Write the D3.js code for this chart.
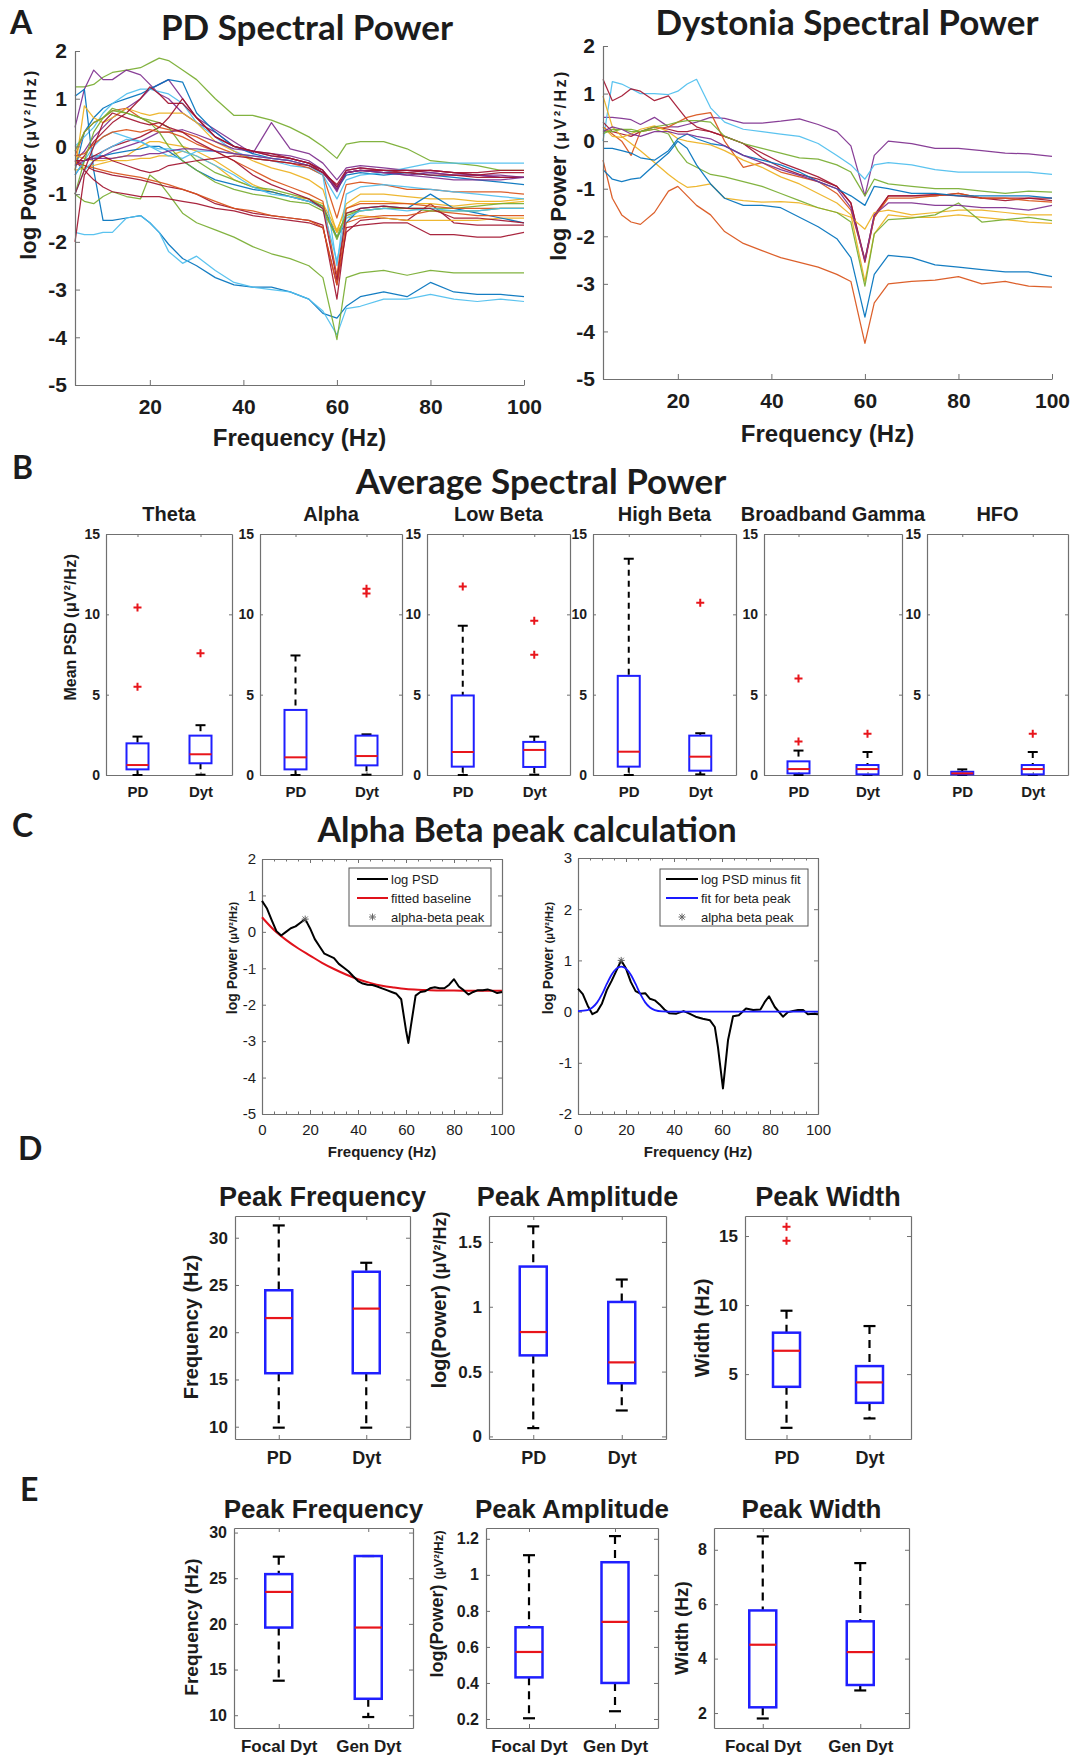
<!DOCTYPE html>
<html>
<head>
<meta charset="utf-8">
<script src="https://cdn.jsdelivr.net/npm/d3@7"></script>
<style>
body { margin: 0; background: #fff; }
</style>
</head>
<body>
<svg id="fig" width="1076" height="1759"></svg>
<script>
// ---------- data ----------
var freqs = [4,6,8,10,12,15,18,20,22,24,27,30,34,38,42,46,50,54,57,60,62,65,70,75,80,85,90,95,100];

// panel A, PD patients (log power per frequency)
var pdPower = [
  [1.25,1.25,1.3,1.45,1.55,1.6,1.65,1.75,1.85,1.8,1.6,1.4,1.0,0.65,0.65,0.55,0.4,0.2,0.0,-0.25,0.05,0.1,0.1,-0.05,-0.3,-0.35,-0.4,-0.5,-0.5],
  [0.4,1.2,1.6,1.4,1.4,1.6,1.5,1.3,1.1,1.0,0.7,0.5,0.3,0.0,-0.1,-0.2,-0.25,-0.35,-0.5,-0.85,-0.55,-0.5,-0.55,-0.6,-0.55,-0.6,-0.6,-0.65,-0.65],
  [-0.3,-0.1,0.2,0.4,0.6,0.8,1.0,1.2,1.3,1.4,1.0,0.6,0.35,0.1,-0.15,0.5,-0.05,-0.15,-0.35,-0.7,-0.45,-0.4,-0.45,-0.5,-0.5,-0.55,-0.6,-0.6,-0.65],
  [-0.5,0.3,0.6,0.8,0.9,1.0,1.1,1.2,1.3,1.4,1.35,0.7,0.3,0.0,-0.15,-0.25,-0.3,-0.4,-0.55,-0.9,-0.6,-0.55,-0.6,-0.55,-0.6,-0.65,-0.7,-0.75,-0.8],
  [0.0,0.2,0.4,0.7,0.9,1.1,1.2,1.2,1.15,1.1,0.9,0.5,0.2,-0.1,-0.25,-0.3,-0.4,-0.45,-0.6,-1.1,-0.7,-0.6,-0.55,-0.45,-0.35,-0.35,-0.35,-0.35,-0.35],
  [1.05,1.2,-0.5,-1.55,-1.55,-1.5,-1.45,-1.6,-1.8,-2.05,-2.35,-2.5,-2.75,-2.9,-2.95,-2.95,-3.05,-3.2,-3.5,-3.6,-3.35,-3.15,-3.05,-3.15,-2.85,-3.05,-3.1,-3.1,-3.15],
  [-1.8,-1.85,-1.85,-1.8,-1.8,-1.5,-1.45,-1.6,-1.8,-2.2,-2.45,-2.3,-2.6,-2.85,-2.95,-3.0,-3.05,-3.2,-3.45,-3.95,-3.4,-3.35,-3.2,-3.2,-3.1,-3.2,-3.25,-3.2,-3.25],
  [-1.0,-1.15,-1.2,-1.05,-0.95,-1.05,-1.1,-0.6,-0.75,-1.0,-1.4,-1.6,-1.75,-1.9,-2.1,-2.25,-2.35,-2.5,-2.75,-4.05,-2.75,-2.65,-2.6,-2.7,-2.6,-2.65,-2.65,-2.65,-2.65],
  [-0.3,-0.4,-0.5,-0.55,-0.6,-0.65,-0.7,-0.75,-0.8,-0.85,-0.9,-1.0,-1.2,-1.3,-1.4,-1.45,-1.5,-1.55,-1.65,-3.2,-1.7,-1.65,-1.6,-1.6,-1.85,-1.85,-1.9,-1.9,-1.8],
  [-0.3,-0.5,-0.7,-0.85,-0.95,-1.0,-1.05,-1.05,-1.05,-1.1,-1.15,-1.2,-1.3,-1.35,-1.45,-1.5,-1.55,-1.6,-1.7,-2.9,-1.8,-1.55,-1.5,-1.55,-1.2,-1.6,-1.65,-1.65,-1.65],
  [-0.2,0.3,0.5,0.6,0.75,0.8,0.6,0.5,0.4,0.35,0.3,0.2,0.0,-0.15,-0.25,-0.3,-0.35,-0.45,-0.6,-1.5,-0.8,-0.75,-0.8,-0.9,-0.9,-0.95,-0.95,-0.95,-1.0],
  [-0.5,0.85,0.6,0.5,0.6,0.8,0.7,0.65,0.7,0.7,0.7,0.5,0.1,-0.1,-0.3,-0.45,-0.55,-0.7,-0.9,-1.8,-1.2,-1.0,-1.0,-1.05,-1.1,-1.1,-1.15,-1.15,-1.1],
  [-0.2,-0.25,-0.3,-0.3,-0.25,-0.2,0.0,0.1,0.1,0.05,0.0,-0.1,-0.3,-0.55,-0.8,-0.95,-1.05,-1.1,-1.2,-1.75,-1.3,-1.15,-1.15,-1.2,-1.2,-1.25,-1.2,-1.2,-1.15],
  [-0.5,-0.45,-0.4,-0.35,-0.3,-0.3,-0.25,-0.25,-0.2,-0.2,-0.1,-0.2,-0.4,-0.7,-0.85,-0.95,-1.05,-1.15,-1.3,-1.8,-1.5,-1.45,-1.5,-1.55,-1.55,-1.55,-1.55,-1.5,-1.5],
  [-0.6,-0.3,-0.2,-0.2,-0.15,-0.1,-0.05,0.0,0.0,-0.1,-0.3,-0.5,-0.7,-0.8,-0.9,-0.95,-1.05,-1.15,-1.25,-1.9,-1.6,-1.3,-1.25,-1.3,-1.0,-1.3,-1.4,-1.5,-1.6],
  [-0.1,0.3,0.5,0.6,0.8,0.7,0.6,0.55,0.5,0.4,0.0,-0.3,-0.55,-0.7,-0.85,-0.9,-1.0,-1.1,-1.25,-1.95,-1.45,-1.35,-1.3,-1.3,-1.3,-1.3,-1.25,-1.2,-1.2],
  [-0.6,-0.3,0.0,0.2,0.3,0.2,0.1,0.0,-0.1,-0.2,-0.25,-0.1,-0.1,-0.15,-0.2,-0.25,-0.3,-0.4,-0.6,-2.5,-1.0,-0.85,-0.8,-0.85,-0.9,-0.95,-1.0,-1.05,-1.1],
  [-0.3,-0.3,-0.25,-0.2,-0.1,0.0,0.1,0.2,0.3,0.3,0.35,0.25,0.1,-0.05,-0.1,-0.15,-0.2,-0.3,-0.5,-0.95,-0.5,-0.45,-0.5,-0.5,-0.55,-0.6,-0.6,-0.65,-0.65],
  [-0.4,-0.2,0.1,0.3,0.5,0.7,1.0,1.25,1.1,0.9,0.9,0.6,0.2,0.0,-0.1,-0.2,-0.25,-0.35,-0.55,-0.9,-0.55,-0.5,-0.55,-0.55,-0.6,-0.6,-0.65,-0.65,-0.65],
  [-0.3,-0.3,-0.2,-0.1,0.0,0.1,0.2,0.3,0.4,0.6,1.0,0.6,0.2,0.0,-0.1,-0.15,-0.25,-0.35,-0.5,-0.85,-0.55,-0.5,-0.5,-0.55,-0.5,-0.55,-0.6,-0.55,-0.55],
  [-0.35,-0.4,-0.45,-0.5,-0.55,-0.6,-0.65,-0.7,-0.75,-0.8,-0.9,-1.0,-1.15,-1.3,-1.35,-1.45,-1.5,-1.55,-1.7,-2.9,-1.6,-1.5,-1.45,-1.45,-1.35,-1.4,-1.45,-1.45,-1.45],
  [-0.2,-0.15,0.05,0.2,0.3,0.35,0.3,0.35,0.3,0.3,0.2,0.05,-0.1,-0.3,-0.5,-0.7,-0.85,-1.0,-1.15,-2.7,-1.3,-1.2,-1.2,-1.2,-1.25,-1.3,-1.3,-1.3,-1.3],
  [-1.0,-0.3,0.3,0.6,0.75,0.7,0.6,0.5,0.3,0.0,-0.3,-0.5,-0.75,-0.9,-1.0,-1.05,-1.15,-1.2,-1.35,-1.9,-1.4,-1.35,-1.3,-1.3,-1.35,-1.35,-1.35,-1.3,-1.3],
  [-1.0,-0.5,-0.3,-0.1,0.0,0.15,0.1,0.0,-0.05,-0.05,-0.1,-0.2,-0.4,-0.6,-0.85,-1.0,-1.05,-1.15,-1.3,-2.4,-1.5,-1.35,-1.3,-1.35,-1.3,-1.35,-1.35,-1.3,-1.3],
  [-0.4,-0.3,-0.25,-0.25,-0.25,-0.2,-0.2,-0.15,-0.15,-0.1,-0.05,-0.05,-0.1,-0.15,-0.2,-0.25,-0.3,-0.4,-0.55,-0.9,-0.55,-0.5,-0.55,-0.6,-0.65,-0.7,-0.7,-0.7,-0.65],
  [-1.0,-0.5,0.0,0.5,0.7,0.6,0.5,0.45,0.5,0.4,0.3,0.1,-0.1,-0.3,-0.6,-0.8,-0.95,-1.1,-1.3,-2.8,-1.4,-1.3,-1.25,-1.3,-1.3,-1.5,-1.5,-1.55,-1.6],
  [-2.0,-0.6,-0.3,-0.2,-0.3,-0.4,-0.5,-0.55,-0.5,-0.4,-0.35,-0.3,-0.25,-0.2,-0.25,-0.3,-0.35,-0.4,-0.55,-0.8,-0.5,-0.45,-0.5,-0.5,-0.5,-0.55,-0.55,-0.5,-0.5]
];

// panel A, dystonia patients
var dytPower = [
  [0.5,0.5,0.48,0.45,0.35,0.5,0.3,0.3,0.35,0.4,0.5,0.48,0.38,0.38,0.42,0.47,0.35,0.2,-0.1,-1.15,-0.3,0.0,-0.05,-0.15,-0.15,-0.2,-0.25,-0.27,-0.32],
  [0.0,1.25,1.2,1.1,1.0,1.0,0.98,1.05,1.2,1.3,0.7,0.4,0.25,0.2,0.15,0.1,-0.05,-0.3,-0.5,-0.8,-0.5,-0.45,-0.5,-0.6,-0.65,-0.65,-0.65,-0.65,-0.7],
  [1.3,0.85,0.95,1.1,1.05,0.85,0.95,0.7,0.45,0.3,0.2,0.1,-0.05,-0.35,-0.55,-0.7,-0.8,-0.95,-1.3,-2.55,-1.6,-1.15,-1.15,-1.12,-1.15,-1.2,-1.2,-1.2,-1.25],
  [0.4,0.2,0.15,0.1,0.2,0.3,0.25,0.2,0.2,0.25,0.2,0.1,-0.05,-0.25,-0.45,-0.6,-0.75,-0.95,-1.3,-2.5,-1.55,-1.15,-1.15,-1.15,-1.1,-1.2,-1.25,-1.2,-1.2],
  [-0.4,-1.2,-1.55,-1.7,-1.75,-1.5,-1.05,-0.95,-1.15,-1.35,-1.55,-1.9,-2.15,-2.3,-2.45,-2.55,-2.65,-2.8,-2.95,-4.25,-3.4,-3.0,-2.95,-2.92,-2.85,-3.0,-2.95,-3.05,-3.07],
  [0.3,0.15,0.0,-0.3,0.2,0.25,0.3,0.4,0.5,0.55,0.6,0.0,-0.55,-0.45,-0.65,-0.75,-0.85,-1.1,-1.45,-2.5,-1.6,-1.2,-1.2,-1.15,-1.1,-1.2,-1.2,-1.25,-1.28],
  [0.95,0.3,0.1,-0.05,-0.2,-0.45,-0.7,-0.85,-0.97,-0.95,-0.9,-1.2,-1.25,-1.28,-1.27,-1.3,-1.4,-1.5,-1.6,-1.85,-1.5,-1.45,-1.55,-1.5,-1.45,-1.45,-1.5,-1.55,-1.55],
  [0.3,0.1,0.08,0.15,0.25,0.32,0.2,0.05,0.0,-0.03,-0.08,-0.2,-0.4,-0.55,-0.75,-0.9,-1.1,-1.3,-1.55,-2.95,-1.95,-1.55,-1.6,-1.6,-1.55,-1.6,-1.65,-1.7,-1.73],
  [0.2,0.2,0.25,0.25,0.2,0.3,0.35,0.4,0.43,0.43,0.4,0.1,-0.05,-0.15,-0.25,-0.35,-0.38,-0.5,-0.65,-1.15,-0.8,-0.9,-0.95,-1.0,-1.0,-1.05,-1.1,-1.05,-1.07],
  [0.15,0.25,0.25,0.2,0.2,0.25,0.15,-0.2,-0.45,-0.55,-0.7,-0.75,-0.85,-0.95,-1.1,-1.25,-1.4,-1.5,-1.7,-3.05,-1.95,-1.65,-1.62,-1.55,-1.3,-1.7,-1.65,-1.6,-1.67],
  [-0.6,-0.8,-0.85,-0.8,-0.77,-0.5,-0.25,0.0,-0.15,-0.5,-0.9,-1.2,-1.35,-1.35,-1.4,-1.6,-1.8,-2.05,-2.45,-3.7,-2.8,-2.4,-2.45,-2.6,-2.65,-2.7,-2.75,-2.75,-2.85],
  [-0.15,-0.15,-0.2,-0.25,-0.35,-0.4,-0.2,0.05,0.15,0.05,-0.05,-0.1,-0.3,-0.4,-0.5,-0.65,-0.85,-1.0,-1.15,-1.35,-0.95,-1.0,-1.1,-1.1,-1.15,-1.15,-1.15,-1.15,-1.2],
  [0.2,0.3,0.25,0.15,0.1,0.2,0.2,0.15,0.15,0.1,0.05,-0.1,-0.3,-0.45,-0.6,-0.72,-0.85,-1.0,-1.4,-2.5,-1.55,-1.3,-1.3,-1.35,-1.35,-1.4,-1.4,-1.45,-1.35]
];
var logTicks = [-5,-4,-3,-2,-1,0,1,2];
var freqTicks = [20,40,60,80,100];

// panel B: box stats [low whisker, q1, median, q3, high whisker]
var bandNames = ["Theta","Alpha","Low Beta","High Beta","Broadband Gamma","HFO"];
var bandGroups = ["PD","Dyt"];
var bandPD = [
  [0.0,0.35,0.62,1.97,2.39],
  [0.0,0.35,1.1,4.05,7.44],
  [0.0,0.52,1.43,4.95,9.29],
  [0.0,0.52,1.45,6.17,13.46],
  [0.0,0.1,0.37,0.85,1.52],
  [0.0,0.04,0.1,0.2,0.35]
];
var bandDyt = [
  [0.02,0.73,1.29,2.45,3.1],
  [0.02,0.6,1.18,2.45,2.53],
  [0.02,0.5,1.56,2.06,2.39],
  [0.04,0.27,1.14,2.45,2.6],
  [0.0,0.04,0.37,0.62,1.43],
  [0.0,0.04,0.37,0.62,1.43]
];
var bandPDOut = [[10.43,5.49],[],[11.74],[],[6.0,2.08],[]];
var bandDytOut = [[7.58],[11.6,11.3],[9.6,7.48],[10.72],[2.56],[2.56]];
var psdTicks = [0,5,10,15];

// panel C
var cPsdF = [0,2,4,6,8,10,12,14,16,18,20,22,24,26,28,30,32,34,36,38,40,42,44,46,48,50,52,54,56,58,60,61,62,64,66,68,70,72,74,76,78,80,82,84,86,88,90,92,94,96,98,100];
var cPsdV = [0.85,0.65,0.33,0.02,-0.1,0.0,0.1,0.15,0.25,0.35,0.1,-0.2,-0.4,-0.6,-0.66,-0.72,-0.88,-0.98,-1.08,-1.22,-1.35,-1.42,-1.45,-1.46,-1.5,-1.55,-1.6,-1.65,-1.7,-1.85,-2.7,-3.05,-2.6,-1.75,-1.65,-1.63,-1.55,-1.52,-1.55,-1.55,-1.45,-1.3,-1.5,-1.6,-1.72,-1.65,-1.6,-1.6,-1.58,-1.62,-1.68,-1.65];
var cBaseF = [0,5,10,15,20,25,30,35,40,45,50,55,60,65,70,80,90,100];
var cBaseV = [0.4,0.05,-0.22,-0.45,-0.65,-0.85,-1.02,-1.17,-1.3,-1.4,-1.48,-1.53,-1.57,-1.59,-1.6,-1.61,-1.62,-1.62];
var cResF = [0,2,4,6,8,10,12,14,16,18,20,22,24,26,28,30,32,34,36,38,41,44,46,49,52,55,57,58.3,60.4,62.5,64.6,67,70,73,76,78,79.6,82,85.4,87.5,89.6,91.7,93.8,95.8,98,100];
var cResV = [0.45,0.34,0.12,-0.05,0.0,0.16,0.42,0.6,0.8,1.0,0.84,0.58,0.4,0.35,0.36,0.25,0.22,0.14,0.04,-0.03,-0.04,0.01,-0.03,-0.1,-0.14,-0.17,-0.3,-0.69,-1.5,-0.56,-0.09,-0.07,0.06,0.03,0.04,0.2,0.3,0.09,-0.1,-0.01,0.01,0.03,0.03,-0.05,-0.04,-0.05];
var cFitF = [0,4,6,8,10,12,14,16,18,20,22,24,26,28,30,32,35,40,100];
var cFitV = [0.01,0.03,0.08,0.18,0.34,0.54,0.72,0.84,0.88,0.84,0.72,0.54,0.34,0.18,0.08,0.03,0.005,0,0];
var cPeakLeft = [18, 0.35];
var cPeakRight = [18, 1.0];
var cLegendLeft = ["log PSD","fitted baseline","alpha-beta peak"];
var cLegendRight = ["log PSD minus fit","fit for beta peak","alpha beta peak"];

// panel D (PD vs Dyt) and E (focal vs generalised)
var dGroups = ["PD","Dyt"];
var dFreq = [[9.9,15.66,21.5,24.44,31.3],[9.9,15.66,22.5,26.4,27.35]];
var dAmp = [[0.064,0.625,0.805,1.31,1.62],[0.2,0.41,0.571,1.037,1.21]];
var dWidth = [[1.11,4.08,6.69,8.0,9.59],[1.79,2.92,4.4,5.58,8.48]];
var dWidthOut = [[15.68,14.66],[]];
var eGroups = ["Focal Dyt","Gen Dyt"];
var eFreq = [[13.78,19.6,23.5,25.45,27.36],[9.8,11.8,19.6,27.43,27.43]];
var eAmp = [[0.204,0.431,0.572,0.709,1.109],[0.243,0.4,0.739,1.07,1.215]];
var eWidth = [[1.8,2.21,4.51,5.77,8.49],[2.83,3.03,4.24,5.37,7.51]];

// ---------- drawing ----------
var svg = d3.select("#fig");
var SANS = "'Liberation Sans', Arial, Helvetica, sans-serif";
var CAL = "Lato, 'Open Sans', sans-serif";
var AX = "#707070";
var INK = "#1c1c1c";
var palette = {b:"#0072BD", o:"#D95319", y:"#EDB120", p:"#7E2F8E", g:"#77AC30", c:"#4DBEEE", r:"#A2142F"};
var pdLineColors = ["g","p","p","b","c","b","c","g","r","r","o","y","y","y","b","g","c","p","r","r","o","o","g","c","p","r","r"];
var dytLineColors = ["p","c","r","r","o","o","y","y","g","g","b","b","p"];

function label(x, y, s, size, font, weight, anchor) {
  return svg.append("text")
    .attr("x", x).attr("y", y)
    .attr("text-anchor", anchor || "middle")
    .style("font-family", font || SANS)
    .style("font-weight", weight || "bold")
    .style("font-size", size + "px")
    .style("fill", INK)
    .text(s);
}

function yTitle(x, cy, parts) {
  var big = d3.max(parts, function(p) { return p[1]; });
  var t = svg.append("text")
    .attr("transform", "translate(" + x + "," + cy + ") rotate(-90)")
    .attr("text-anchor", "middle")
    .attr("dy", "0.35em")
    .style("font-family", SANS)
    .style("font-weight", "bold")
    .style("font-size", big + "px")
    .style("fill", INK);
  parts.forEach(function(p) {
    var ts = t.append("tspan").style("font-size", p[1] + "px").text(p[0]);
    if (p[2]) ts.style("letter-spacing", p[2] + "px");
  });
}

function styleAxis(sel, size, weight) {
  sel.select(".domain").attr("stroke", AX).attr("stroke-width", 1.2);
  sel.selectAll(".tick line").attr("stroke", AX).attr("stroke-width", 1);
  sel.selectAll(".tick text")
    .style("font-family", SANS)
    .style("font-size", (size || 12) + "px")
    .style("font-weight", weight || "bold")
    .attr("fill", INK);
}

// full box (MATLAB "box on") with ticks pointing inward
function boxFrame(x, y, o) {
  var x0 = x.range()[0], x1 = x.range()[1], y0 = y.range()[0], y1 = y.range()[1];
  var g = svg.append("g");
  var xf = o.xfmt || function(d) { return String(d); };
  g.append("g").attr("transform", "translate(0," + y0 + ")")
    .call(d3.axisBottom(x).tickValues(o.xt).tickSize(-o.tl).tickSizeOuter(0).tickPadding(o.xpad).tickFormat(xf))
    .call(styleAxis, o.xfs, o.fw);
  g.append("g").attr("transform", "translate(0," + y1 + ")")
    .call(d3.axisTop(x).tickValues(o.xt).tickSize(-o.tl).tickSizeOuter(0).tickFormat(""))
    .call(styleAxis);
  g.append("g").attr("transform", "translate(" + x0 + ",0)")
    .call(d3.axisLeft(y).tickValues(o.yt).tickSize(-o.tl).tickSizeOuter(0).tickPadding(o.ypad).tickFormat(function(d) { return String(d); }))
    .call(styleAxis, o.yfs, o.fw);
  g.append("g").attr("transform", "translate(" + x1 + ",0)")
    .call(d3.axisRight(y).tickValues(o.yt).tickSize(-o.tl).tickSizeOuter(0).tickFormat(""))
    .call(styleAxis);
  if (o.minor) {
    [y0, y1].forEach(function(yy, k) {
      g.append("g").attr("transform", "translate(0," + yy + ")")
        .call((k === 0 ? d3.axisBottom(x) : d3.axisTop(x)).tickValues(o.minor).tickSize(-2.5).tickSizeOuter(0).tickFormat(""))
        .call(styleAxis);
    });
  }
  return g;
}

function boxplots(x, y, stats, outs, st) {
  var g = svg.append("g");
  stats.forEach(function(s, i) {
    var cx = x(i + 1);
    // dashed whiskers
    [[s[4], s[3]], [s[1], s[0]]].forEach(function(w) {
      g.append("line").attr("x1", cx).attr("x2", cx).attr("y1", y(w[0])).attr("y2", y(w[1]))
        .attr("stroke", "#000").attr("stroke-width", st.ww).attr("stroke-dasharray", st.dash);
    });
    [s[0], s[4]].forEach(function(v) {
      g.append("line").attr("x1", cx - st.cw / 2).attr("x2", cx + st.cw / 2).attr("y1", y(v)).attr("y2", y(v))
        .attr("stroke", "#000").attr("stroke-width", st.ww);
    });
    g.append("rect").attr("x", cx - st.bw / 2).attr("y", y(s[3]))
      .attr("width", st.bw).attr("height", y(s[1]) - y(s[3]))
      .attr("fill", "none").attr("stroke", "#1f1fff").attr("stroke-width", st.bs);
    g.append("line").attr("x1", cx - st.bw / 2).attr("x2", cx + st.bw / 2).attr("y1", y(s[2])).attr("y2", y(s[2]))
      .attr("stroke", "#e8151b").attr("stroke-width", st.ms);
    (outs ? outs[i] : []).forEach(function(v) {
      var py = y(v), r = 4;
      g.append("path").attr("d", "M" + (cx - r) + "," + py + "h" + (2 * r) + "M" + cx + "," + (py - r) + "v" + (2 * r))
        .attr("stroke", "#e8151b").attr("stroke-width", 2);
    });
  });
}

function star(g, px, py) {
  var r = 3.5;
  g.append("path")
    .attr("d", "M" + (px - r) + "," + py + "h" + 2 * r + "M" + px + "," + (py - r) + "v" + 2 * r +
      "M" + (px - r * 0.75) + "," + (py - r * 0.75) + "l" + 1.5 * r + "," + 1.5 * r +
      "M" + (px - r * 0.75) + "," + (py + r * 0.75) + "l" + 1.5 * r + "," + (-1.5 * r))
    .attr("stroke", "#666").attr("stroke-width", 1);
}

// ----- Panel letters -----
label(10, 34, "A", 32, CAL, 700, "start");
label(12, 479, "B", 32, CAL, 700, "start");
label(12, 837, "C", 32, CAL, 700, "start");
label(18, 1160, "D", 32, CAL, 700, "start");
label(20, 1501, "E", 32, CAL, 700, "start");

// ----- Panel A -----
function spectraPanel(series, cols, xr, yr, title, titleX, titleY, xlabY, ylabX, ylabCY) {
  var x = d3.scaleLinear().domain([4, 100]).range(xr);
  var y = d3.scaleLinear().domain([-5, 2]).range(yr);
  var g = svg.append("g");
  var line = d3.line().x(function(d, i) { return x(freqs[i]); }).y(function(d) { return y(d); });
  g.selectAll("path.spec").data(series).join("path").attr("class", "spec")
    .attr("d", line).attr("fill", "none")
    .attr("stroke", function(d, i) { return palette[cols[i]]; })
    .attr("stroke-width", 1.25).attr("stroke-linejoin", "round").attr("stroke-opacity", 0.92);
  g.append("g").attr("transform", "translate(0," + yr[0] + ")")
    .call(d3.axisBottom(x).tickValues(freqTicks).tickSize(-5).tickSizeOuter(0).tickPadding(14).tickFormat(function(d) { return String(d); }))
    .call(styleAxis, 21, "bold");
  g.append("g").attr("transform", "translate(" + xr[0] + ",0)")
    .call(d3.axisLeft(y).tickValues(logTicks).tickSize(-5).tickSizeOuter(0).tickPadding(8).tickFormat(function(d) { return String(d); }))
    .call(styleAxis, 21, "bold");
  label(titleX, titleY, title, 35, CAL, 700);
  label((xr[0] + xr[1]) / 2, xlabY, "Frequency (Hz)", 24);
  yTitle(ylabX, ylabCY, [["log Power ", 22], ["(\u03bcV\u00b2/Hz)", 16, 2.5]]);
}
spectraPanel(pdPower, pdLineColors, [75, 524], [385, 51], "PD Spectral Power", 307, 40, 446, 28, 164);
spectraPanel(dytPower, dytLineColors, [603, 1052], [379, 46], "Dystonia Spectral Power", 847, 35, 442, 558, 165);

// ----- Panel B -----
label(541, 494, "Average Spectral Power", 35, CAL, 700);
var bandBoxesX = [[106, 232], [260, 402], [427, 570], [593, 736], [764, 902], [927, 1068]];
bandNames.forEach(function(name, k) {
  var x = d3.scaleLinear().domain([0.5, 2.5]).range(bandBoxesX[k]);
  var y = d3.scaleLinear().domain([0, 15]).range([775, 534]);
  boxFrame(x, y, {xt: [1, 2], yt: psdTicks, tl: 3, xpad: 11, ypad: 6, xfs: 15, yfs: 14, fw: "bold",
    xfmt: function(d) { return bandGroups[d - 1]; }});
  boxplots(x, y, [bandPD[k], bandDyt[k]], [bandPDOut[k], bandDytOut[k]],
    {bw: 22, cw: 10, ww: 2, dash: "6,5", bs: 2, ms: 2});
  label((bandBoxesX[k][0] + bandBoxesX[k][1]) / 2, 521, name, 20);
});
yTitle(70, 627, [["Mean PSD  ", 16], ["(\u03bcV\u00b2/Hz)", 16, 0.5]]);

// ----- Panel C -----
label(527, 842, "Alpha Beta peak calculation", 34, CAL, 700);
(function() {
  var opts = {xt: [0, 20, 40, 60, 80, 100], tl: 4, xpad: 10, ypad: 6, xfs: 15, yfs: 15, fw: "normal",
    minor: d3.range(0, 101, 5)};
  // left: log PSD with fitted baseline
  var xl = d3.scaleLinear().domain([0, 100]).range([262, 502]);
  var yl = d3.scaleLinear().domain([-5, 2]).range([1114, 859]);
  opts.yt = [-5, -4, -3, -2, -1, 0, 1, 2];
  boxFrame(xl, yl, opts);
  var gl = svg.append("g");
  gl.append("path").datum(cBaseF.map(function(f, i) { return [f, cBaseV[i]]; }))
    .attr("d", d3.line().curve(d3.curveMonotoneX).x(function(d) { return xl(d[0]); }).y(function(d) { return yl(d[1]); }))
    .attr("fill", "none").attr("stroke", "#e0121b").attr("stroke-width", 2);
  gl.append("path").datum(cPsdF.map(function(f, i) { return [f, cPsdV[i]]; }))
    .attr("d", d3.line().x(function(d) { return xl(d[0]); }).y(function(d) { return yl(d[1]); }))
    .attr("fill", "none").attr("stroke", "#000").attr("stroke-width", 2).attr("stroke-linejoin", "round");
  star(gl, xl(cPeakLeft[0]), yl(cPeakLeft[1]));

  // right: residual with gaussian fit
  var xr = d3.scaleLinear().domain([0, 100]).range([578, 818]);
  var yr = d3.scaleLinear().domain([-2, 3]).range([1114, 858]);
  opts.yt = [-2, -1, 0, 1, 2, 3];
  boxFrame(xr, yr, opts);
  var gr = svg.append("g");
  gr.append("path").datum(cResF.map(function(f, i) { return [f, cResV[i]]; }))
    .attr("d", d3.line().x(function(d) { return xr(d[0]); }).y(function(d) { return yr(d[1]); }))
    .attr("fill", "none").attr("stroke", "#000").attr("stroke-width", 2).attr("stroke-linejoin", "round");
  gr.append("path").datum(cFitF.map(function(f, i) { return [f, cFitV[i]]; }))
    .attr("d", d3.line().curve(d3.curveMonotoneX).x(function(d) { return xr(d[0]); }).y(function(d) { return yr(d[1]); }))
    .attr("fill", "none").attr("stroke", "#1a1aff").attr("stroke-width", 1.8);
  star(gr, xr(cPeakRight[0]), yr(cPeakRight[1]));

  // legends
  function legend(bx, by, bw, bh, names, cols, lx0, lx1, tx) {
    var g = svg.append("g");
    g.append("rect").attr("x", bx).attr("y", by).attr("width", bw).attr("height", bh)
      .attr("fill", "#fff").attr("stroke", "#555").attr("stroke-width", 1);
    names.forEach(function(n, i) {
      var ly = 879 + i * 19;
      if (cols[i]) {
        g.append("line").attr("x1", lx0).attr("x2", lx1).attr("y1", ly).attr("y2", ly)
          .attr("stroke", cols[i]).attr("stroke-width", 2);
      } else {
        star(g, (lx0 + lx1) / 2, ly);
      }
      g.append("text").attr("x", tx).attr("y", ly + 4.5)
        .style("font-family", SANS).style("font-size", "13px").style("fill", INK).text(n);
    });
  }
  legend(349, 868, 142, 58, cLegendLeft, ["#000", "#e0121b", null], 357, 388, 391);
  legend(660, 869, 148, 57, cLegendRight, ["#000", "#1a1aff", null], 666, 698, 701);

  label(382, 1157, "Frequency (Hz)", 15);
  label(698, 1157, "Frequency (Hz)", 15);
  yTitle(232, 958, [["log Power ", 14], ["(\u03bcV\u00b2/Hz)", 11]]);
  yTitle(548, 958, [["log Power ", 14], ["(\u03bcV\u00b2/Hz)", 11]]);
})();

// ----- Panels D and E -----
function peakPanel(xr, yr, dom, yt, stats, outs, groups, title, titleY, xfs, yfs, tfs) {
  var x = d3.scaleLinear().domain([0.5, 2.5]).range(xr);
  var y = d3.scaleLinear().domain(dom).range(yr);
  boxFrame(x, y, {xt: [1, 2], yt: yt, tl: 4, xpad: 12, ypad: 7, xfs: xfs, yfs: yfs, fw: "bold",
    xfmt: function(d) { return groups[d - 1]; }});
  boxplots(x, y, stats, outs, {bw: 27, cw: 12, ww: 2.2, dash: "8,6", bs: 2.5, ms: 2.2});
  label((xr[0] + xr[1]) / 2, titleY, title, tfs);
}
peakPanel([235, 410], [1439, 1216], [8.7, 32.3], [10, 15, 20, 25, 30], dFreq, null, dGroups, "Peak Frequency", 1206, 18, 17, 27);
peakPanel([489, 666], [1439, 1216], [-0.02, 1.7], [0, 0.5, 1, 1.5], dAmp, null, dGroups, "Peak Amplitude", 1206, 18, 17, 27);
peakPanel([745, 911], [1439, 1216], [0.3, 16.45], [5, 10, 15], dWidth, dWidthOut, dGroups, "Peak Width", 1206, 18, 17, 27);
yTitle(191, 1327, [["Frequency (Hz)", 20]]);
yTitle(439, 1300, [["log(Power) ", 20], ["(\u03bcV\u00b2/Hz)", 18]]);
yTitle(702, 1328, [["Width (Hz)", 20]]);

peakPanel([234, 413], [1728, 1528], [8.6, 30.5], [10, 15, 20, 25, 30], eFreq, null, eGroups, "Peak Frequency", 1518, 17, 16, 26);
peakPanel([486, 658], [1728, 1528], [0.15, 1.26], [0.2, 0.4, 0.6, 0.8, 1, 1.2], eAmp, null, eGroups, "Peak Amplitude", 1518, 17, 16, 26);
peakPanel([714, 909], [1728, 1528], [1.45, 8.8], [2, 4, 6, 8], eWidth, null, eGroups, "Peak Width", 1518, 17, 16, 26);
yTitle(191, 1627, [["Frequency (Hz)", 19]]);
yTitle(437, 1604, [["log(Power) ", 18], ["(\u03bcV\u00b2/Hz)", 13]]);
yTitle(681, 1628, [["Width (Hz)", 19]]);
</script>
</body>
</html>
